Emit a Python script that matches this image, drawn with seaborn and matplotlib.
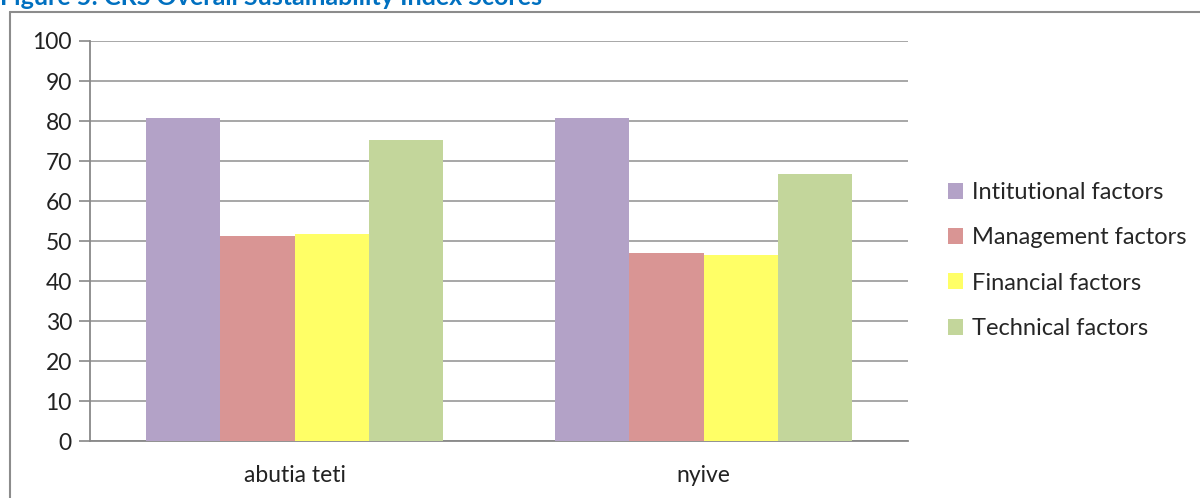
import matplotlib
matplotlib.use("Agg")
import matplotlib.pyplot as plt
from matplotlib.lines import Line2D
from matplotlib.patches import Patch
import seaborn as sns
import pandas as pd

# ---- data ----
communities = ["abutia teti", "nyive"]
factors = ["Intitutional factors", "Management factors", "Financial factors", "Technical factors"]
institutional = [80.7, 80.7]
management = [51.3, 47.1]
financial = [51.7, 46.5]
technical = [75.2, 66.8]
colors = ["#B3A2C7", "#D99594", "#FFFF66", "#C3D69B"]
yticks = list(range(0, 101, 10))
title = "Figure 5: CRS Overall Sustainability Index Scores"

rows = []
for f, vals in zip(factors, [institutional, management, financial, technical]):
    for c, v in zip(communities, vals):
        rows.append({"community": c, "factor": f, "score": v})
df = pd.DataFrame(rows)

sns.set_theme(style="white")
plt.rcParams["font.family"] = ["Lato", "DejaVu Sans"]

W, H = 1200, 498
fig = plt.figure(figsize=(W / 100, H / 100), dpi=100)
ax = fig.add_axes([90 / W, 1 - 441 / H, (908 - 90) / W, 400 / H])

sns.barplot(data=df, x="community", y="score", hue="factor", order=communities,
            hue_order=factors, palette=colors, width=0.727, gap=0,
            saturation=1, ax=ax, legend=False, linewidth=0, zorder=3)

ax.set_ylim(0, 100)
ax.set_xlim(-0.5, 1.5)
ax.set_yticks(yticks)
ax.set_yticklabels([str(t) for t in yticks], fontsize=16.5, color="#222222")
ax.set_xticks([-0.5, 0.5, 1.5])
ax.set_xticklabels(["", "", ""])
ax.set_xticks([0, 1], minor=True)
ax.set_xticklabels(communities, minor=True, fontsize=16.5, color="#222222")
ax.tick_params(axis="x", which="major", length=8, width=1.2, color="#888888", direction="out")
ax.tick_params(axis="x", which="minor", length=0, pad=17)
ax.tick_params(axis="y", which="major", length=8, width=1.2, color="#888888", direction="out", left=True, pad=5)
ax.set_xlabel("")
ax.set_ylabel("")
ax.yaxis.grid(True, color="#A0A0A0", linewidth=1.3, zorder=0)
ax.set_axisbelow(True)
for s in ["top", "right"]:
    ax.spines[s].set_visible(False)
for s in ["left", "bottom"]:
    ax.spines[s].set_color("#888888")
    ax.spines[s].set_linewidth(1.3)

handles = [Patch(facecolor=c, edgecolor="none", label=f) for c, f in zip(colors, factors)]
fig.legend(handles=handles, loc="upper left", bbox_to_anchor=(948 / W, 1 - 182 / H),
           frameon=False, fontsize=17, handlelength=0.65, handleheight=0.65,
           handletextpad=0.35, labelspacing=1.03, borderaxespad=0, borderpad=0)

# outer chart border
fig.add_artist(Line2D([10 / W, 10 / W], [0, 1 - 12 / H], transform=fig.transFigure,
                      color="#8C8C8C", linewidth=1.5))
fig.add_artist(Line2D([10 / W, 1], [1 - 12 / H, 1 - 12 / H], transform=fig.transFigure,
                      color="#8C8C8C", linewidth=1.5))

fig.text(0.0, 1 - 5 / H, title, fontsize=18, fontweight="bold", color="#0070C0",
         ha="left", va="baseline")

fig.savefig("out.png", dpi=100)
